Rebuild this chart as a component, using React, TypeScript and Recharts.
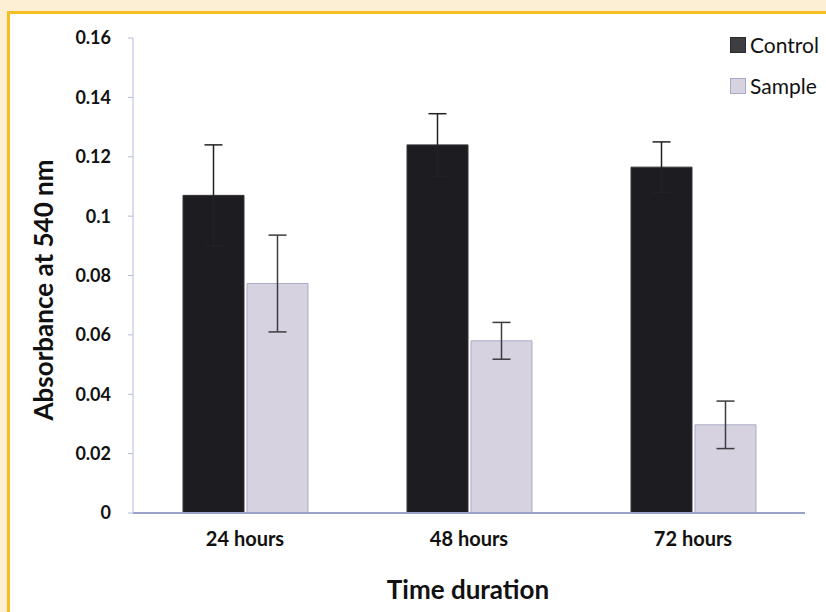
import { BarChart, Bar, XAxis, YAxis, ErrorBar, Label } from "recharts";

const categories = ["24 hours", "48 hours", "72 hours"];
const control = [0.107, 0.124, 0.1165];
const controlErr = [0.017, 0.0105, 0.0085];
const sample = [0.0773, 0.058, 0.0297];
const sampleErr = [0.0163, 0.0062, 0.008];
const yTicks = [0, 0.02, 0.04, 0.06, 0.08, 0.1, 0.12, 0.14, 0.16];

const data = categories.map((name, i) => ({
  name,
  control: control[i],
  controlErr: controlErr[i],
  sample: sample[i],
  sampleErr: sampleErr[i],
}));

const FONT = "Lato, 'Open Sans', sans-serif";

const legendItems = [
  { label: "Control", fill: "#3e3e42", stroke: "#2a2a2e" },
  { label: "Sample", fill: "#d6d2e0", stroke: "#a9abc6" },
];

function LegendBox() {
  return (
    <div style={{ fontFamily: FONT }}>
      {legendItems.map((it) => (
        <div key={it.label} style={{ display: "flex", alignItems: "center", height: 41 }}>
          <span style={{
            width: 14, height: 14, background: it.fill,
            border: `1px solid ${it.stroke}`, marginRight: 4,
          }} />
          <span style={{ fontSize: 21, color: "#111" }}>{it.label}</span>
        </div>
      ))}
    </div>
  );
}

export default function App() {
  return (
    <div style={{
      position: "absolute", left: 0, top: 0, width: 826, height: 612,
      background: "#fcefd3", overflow: "hidden",
    }}>
      {/* frame */}
      <div style={{
        position: "absolute", left: 7, top: 11, right: 0, bottom: 0,
        borderLeft: "3px solid #f5bf22", borderTop: "3px solid #f5bf22",
        background: "#fff",
      }} />
      <div style={{ position: "absolute", left: 0, top: 0 }}>
        <BarChart width={826} height={612} data={data}
          margin={{ top: 38, right: 21, bottom: 0, left: 0 }}
          barSize={61} barGap={3}>
          <XAxis dataKey="name" height={99}
            axisLine={{ stroke: "#98a2c8", strokeWidth: 2 }}
            tickLine={false} tickSize={0} tickMargin={19}
            tick={{ fontSize: 20, fontWeight: 700, fill: "#111", fontFamily: FONT }}>
            <Label content={() => (
              <text x={468} y={599} textAnchor="middle"
                style={{ fontSize: 26, fontWeight: 700, fill: "#111", fontFamily: FONT }}>
                Time duration
              </text>
            )} />
          </XAxis>
          <YAxis width={133} domain={[0, 0.16]} ticks={yTicks}
            axisLine={{ stroke: "#b4badb" }}
            tickLine={{ stroke: "#b4badb" }} tickSize={5} tickMargin={17}
            tick={{ fontSize: 18, fontWeight: 700, fill: "#111", fontFamily: FONT }}>
            <Label content={() => (
              <text x={53} y={290} textAnchor="middle" transform="rotate(-90 53 290)"
                style={{ fontSize: 26, fontWeight: 700, fill: "#111", fontFamily: FONT }}>
                Absorbance at 540 nm
              </text>
            )} />
          </YAxis>
          <Bar dataKey="control" fill="#1d1d21" stroke="#3a3236" strokeWidth={1}
            isAnimationActive={false}>
            <ErrorBar dataKey="controlErr" width={9} stroke="#222226" strokeWidth={1.5} direction="y" />
          </Bar>
          <Bar dataKey="sample" fill="#d6d2e0" stroke="#a9abc6" strokeWidth={1}
            isAnimationActive={false}>
            <ErrorBar dataKey="sampleErr" width={9} stroke="#3c3c40" strokeWidth={1.5} direction="y" />
          </Bar>
        </BarChart>
      </div>
      <div style={{ position: "absolute", left: 730, top: 24 }}>
        <LegendBox />
      </div>
    </div>
  );
}
